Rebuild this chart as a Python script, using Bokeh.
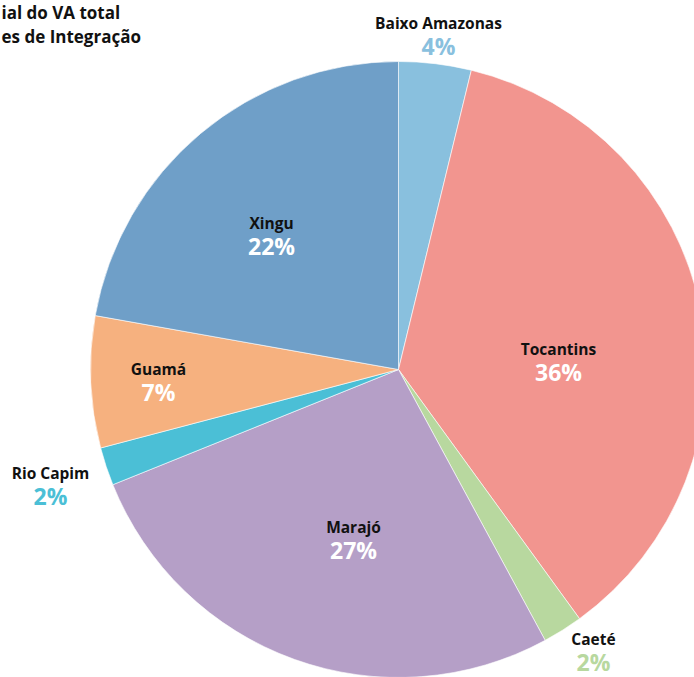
import math
from bokeh.plotting import figure
from bokeh.models import Range1d, ColumnDataSource
from bokeh.core.properties import value
from bokeh.embed import file_html
from bokeh.resources import INLINE

# ---- data ----
regions = ["Baixo Amazonas", "Tocantins", "Caeté", "Marajó", "Rio Capim", "Guamá", "Xingu"]
shares = [3.8, 36.2, 2.1, 26.8, 2.0, 6.9, 22.2]
colors = ["#89C0DE", "#F2958F", "#B8D89F", "#B59FC7", "#4BBFD6", "#F6B17F", "#6F9FC8"]
title_lines = ["ial do VA total", "es de Integração"]

# ---- layout / style ----
W, H = 694, 677
CX, CY, R = 398, 369, 308  # screen coords of pie centre
FONT = "Open Sans"
inside = [False, True, False, True, False, True, True]
# label anchor (screen px) per region: name centre
label_pos = [(438, 22), (558, 348), (593, 638), (353, 526), (50, 472), (158, 368), (271, 222)]

p = figure(width=W, height=H, output_backend="svg", toolbar_location=None,
           x_range=Range1d(0, W), y_range=Range1d(0, H), min_border=0,
           outline_line_color=None)
p.axis.visible = False
p.grid.visible = False
p.styles = {"position": "absolute", "left": "0px", "top": "0px"}

total = sum(shares)
starts, ends = [], []
cum = 0.0
for s in shares:
    starts.append(math.pi / 2 - 2 * math.pi * cum / total)
    cum += s
    ends.append(math.pi / 2 - 2 * math.pi * cum / total)

src = ColumnDataSource(dict(start=starts, end=ends, color=colors))
p.wedge(x=CX, y=H - CY, radius=R, start_angle="start", end_angle="end",
        direction="clock", fill_color="color", line_color="white", line_width=0.6,
        source=src)

names_x, names_y, pct_x, pct_y, pct_txt, pct_col = [], [], [], [], [], []
for reg, s, c, ins, (lx, ly) in zip(regions, shares, colors, inside, label_pos):
    names_x.append(lx)
    names_y.append(H - ly)
    pct_x.append(lx)
    pct_y.append(H - ly - 23)
    pct_txt.append(f"{round(s)}%")
    pct_col.append("white" if ins else c)

p.text(x=names_x, y=names_y, text=regions, text_align="center", text_baseline="middle",
       text_font=value(FONT), text_font_style="bold", text_font_size="15.5px",
       text_color="#111111")
p.text(x=pct_x, y=pct_y, text=pct_txt, text_align="center", text_baseline="middle",
       text_font=value(FONT), text_font_style="bold", text_font_size="23px",
       text_color=pct_col)

p.text(x=[1, 1], y=[H - 12, H - 36], text=title_lines, text_align="left",
       text_baseline="middle", text_font=value(FONT), text_font_style="bold",
       text_font_size="17px", text_color="#111111")

open("out.html", "w").write(file_html(p, INLINE))
